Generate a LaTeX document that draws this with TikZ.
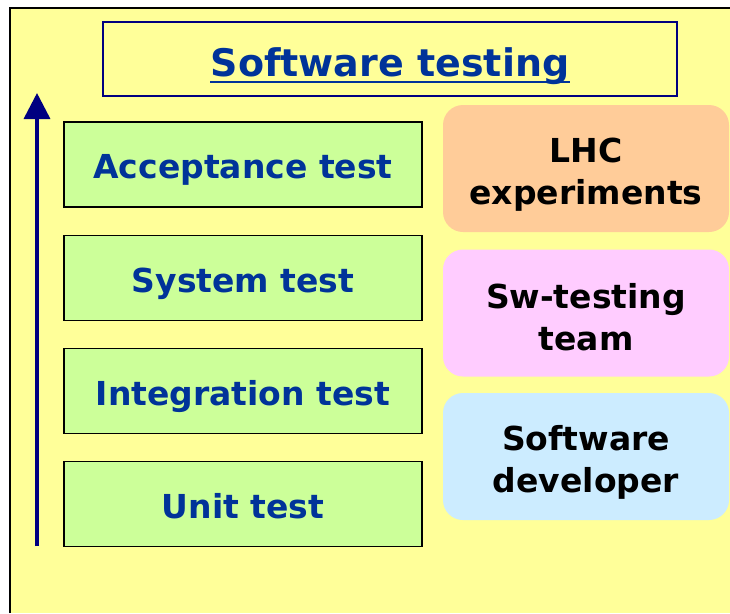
\documentclass[tikz,border=0pt]{standalone}
\usepackage{fontspec}
\setmainfont{DejaVu Sans}
\usetikzlibrary{arrows.meta,positioning}

\definecolor{slideyellow}{HTML}{FFFF99}
\definecolor{testgreen}{HTML}{CCFF99}
\definecolor{titleblue}{HTML}{003399}
\definecolor{arrowblue}{HTML}{000080}
\definecolor{lhcorange}{HTML}{FFCC99}
\definecolor{teampink}{HTML}{FFCCFF}
\definecolor{devblue}{HTML}{CCECFF}

\tikzset{
  level/.style={draw=black, line width=1.8pt, fill=testgreen, minimum width=358pt,
    minimum height=85pt, text height=30pt, text depth=2pt, text=titleblue,
    font=\bfseries\fontsize{33}{38}\selectfont},
  actor/.style={fill=#1, rounded corners=20pt, minimum width=286pt, minimum height=127pt},
  actortext/.style={align=center, font=\bfseries\fontsize{33}{42}\selectfont}
}

\begin{document}
\begin{tikzpicture}[x=1pt,y=-1pt]
    \useasboundingbox (0,0) rectangle (730,613);

    % Slide background
    \fill[white] (0,0) rectangle (730,613);
    \fill[slideyellow] (10,8) rectangle (730,613);
    \draw[line width=2pt] (10,613) -- (10,8) -- (730,8);

    % Title
    \node[draw=arrowblue, line width=1.5pt, minimum width=574pt, minimum height=74pt]
      (titlebox) at (390,59) {};
    \node[anchor=base, inner sep=0pt, text=titleblue, font=\bfseries\fontsize{38}{44}\selectfont]
      (title) at (390,76) {Software testing};
    \draw[titleblue, line width=2.6pt] ([yshift=-6pt]title.base west) -- ([yshift=-6pt]title.base east);

    % Test levels
    \node[level] (acceptance) at (243,164.5) {Acceptance test};
    \node[level] (system) at (243,278) {System test};
    \node[level] (integration) at (243,391) {Integration test};
    \node[level] (unit) at (243,504) {Unit test};

    % Who runs them
    \node[actor=lhcorange] (lhc) at (586,168.5) {};
    \node[actor=teampink] (team) at (586,313) {};
    \node[actor=devblue] (dev) at (586,456.5) {};
    \node[actortext] (lhctext) at ([yshift=-6pt]lhc.center) {LHC\\experiments};
    \node[actortext] (teamtext) at ([yshift=-4pt]team.center) {Sw-testing\\team};
    \node[actortext] (devtext) at ([yshift=-6pt]dev.center) {Software\\developer};

    % Upward arrow
    \coordinate (low) at (37,546);
    \coordinate (high) at (37,93);
    \draw[-{Triangle[width=26pt,length=26pt]}, line width=3.5pt, arrowblue] (low) -- (high);
\end{tikzpicture}
\end{document}
